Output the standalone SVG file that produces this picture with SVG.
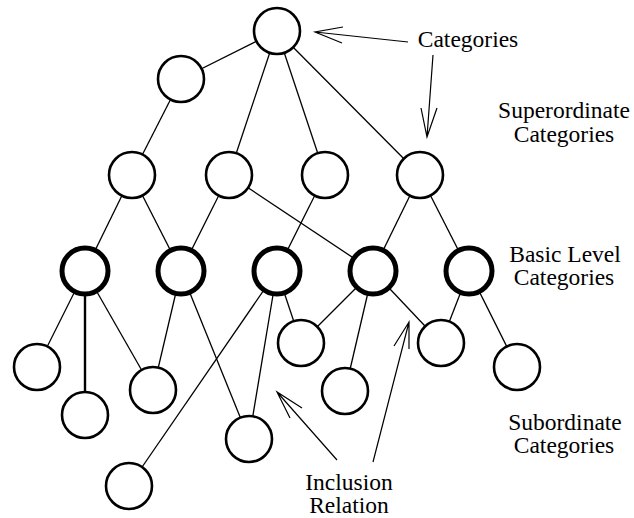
<svg xmlns="http://www.w3.org/2000/svg" width="634" height="518" viewBox="0 0 634 518">
<style>
.n{fill:#fff;stroke:#000;stroke-width:2.6}
.b{fill:#fff;stroke:#000;stroke-width:5}
.e{stroke:#000;stroke-width:1.3;fill:none}
.a{stroke:#000;stroke-width:1.2;fill:none}
.t{font-family:"Liberation Serif","Times New Roman",serif;font-size:23.5px;fill:#000;text-anchor:middle}
</style>
<rect width="634" height="518" fill="#fff"/>
<g id="connectors">
<line class="e" x1="277" y1="31" x2="181" y2="79"/>
<line class="e" x1="277" y1="31" x2="229" y2="175"/>
<line class="e" x1="277" y1="31" x2="325" y2="175"/>
<line class="e" x1="277" y1="31" x2="420" y2="175"/>
<line class="e" x1="181" y1="79" x2="132" y2="175"/>
<line class="e" x1="132" y1="175" x2="85" y2="271"/>
<line class="e" x1="132" y1="175" x2="181" y2="271"/>
<line class="e" x1="229" y1="175" x2="181" y2="271"/>
<line class="e" x1="229" y1="175" x2="373" y2="271"/>
<line class="e" x1="325" y1="175" x2="277" y2="271"/>
<line class="e" x1="420" y1="175" x2="373" y2="271"/>
<line class="e" x1="420" y1="175" x2="469" y2="271"/>
<line class="e" x1="85" y1="271" x2="37" y2="367"/>
<line class="e" x1="85" y1="271" x2="85" y2="415" style="stroke-width:2.4"/>
<line class="e" x1="85" y1="271" x2="153" y2="390"/>
<line class="e" x1="181" y1="271" x2="153" y2="390"/>
<line class="e" x1="181" y1="271" x2="249" y2="439"/>
<line class="e" x1="277" y1="271" x2="129" y2="486"/>
<line class="e" x1="277" y1="271" x2="249" y2="439"/>
<line class="e" x1="277" y1="271" x2="301" y2="343"/>
<line class="e" x1="373" y1="271" x2="301" y2="343"/>
<line class="e" x1="373" y1="271" x2="345" y2="391"/>
<line class="e" x1="373" y1="271" x2="441" y2="343"/>
<line class="e" x1="469" y1="271" x2="441" y2="343"/>
<line class="e" x1="469" y1="271" x2="517" y2="367"/>
</g>
<g id="nodes">
<g id="n-top"><circle class="n" cx="277" cy="31" r="23"/></g>
<g id="n-s1"><circle class="n" cx="181" cy="79" r="23"/></g>
<g id="n-s2"><circle class="n" cx="132" cy="175" r="23"/></g>
<g id="n-s3"><circle class="n" cx="229" cy="175" r="23"/></g>
<g id="n-s4"><circle class="n" cx="325" cy="175" r="23"/></g>
<g id="n-s5"><circle class="n" cx="420" cy="175" r="23"/></g>
<g id="n-b1"><circle class="b" cx="85" cy="271" r="23"/></g>
<g id="n-b2"><circle class="b" cx="181" cy="271" r="23"/></g>
<g id="n-b3"><circle class="b" cx="277" cy="271" r="23"/></g>
<g id="n-b4"><circle class="b" cx="373" cy="271" r="23"/></g>
<g id="n-b5"><circle class="b" cx="469" cy="271" r="23"/></g>
<g id="n-u1"><circle class="n" cx="37" cy="367" r="23"/></g>
<g id="n-u2"><circle class="n" cx="85" cy="415" r="23"/></g>
<g id="n-u3"><circle class="n" cx="153" cy="390" r="23"/></g>
<g id="n-u4"><circle class="n" cx="249" cy="439" r="23"/></g>
<g id="n-u5"><circle class="n" cx="129" cy="486" r="23"/></g>
<g id="n-u6"><circle class="n" cx="301" cy="343" r="23"/></g>
<g id="n-u7"><circle class="n" cx="345" cy="391" r="23"/></g>
<g id="n-u8"><circle class="n" cx="441" cy="343" r="23"/></g>
<g id="n-u9"><circle class="n" cx="517" cy="367" r="23"/></g>
</g>
<g id="annotations">
<path class="a" d="M408 42 L315 32 M343 27 L315 32 L342 43"/>
<path class="a" d="M433 55 L427 137 M421 108 L427 137 L437 108"/>
<path class="a" d="M337 460 L277 392 M302 408 L277 392 L290 418"/>
<path class="a" d="M373 462 L409 322 M394 346 L409 322 L409 349"/>
</g>
<g id="labels">
<text class="t" x="468" y="47">Categories</text>
<text class="t" x="564" y="118">Superordinate</text>
<text class="t" x="564" y="142">Categories</text>
<text class="t" x="565" y="262">Basic Level</text>
<text class="t" x="564" y="285">Categories</text>
<text class="t" x="565" y="430">Subordinate</text>
<text class="t" x="564" y="453">Categories</text>
<text class="t" x="349" y="490">Inclusion</text>
<text class="t" x="349" y="513">Relation</text>
</g>
</svg>
